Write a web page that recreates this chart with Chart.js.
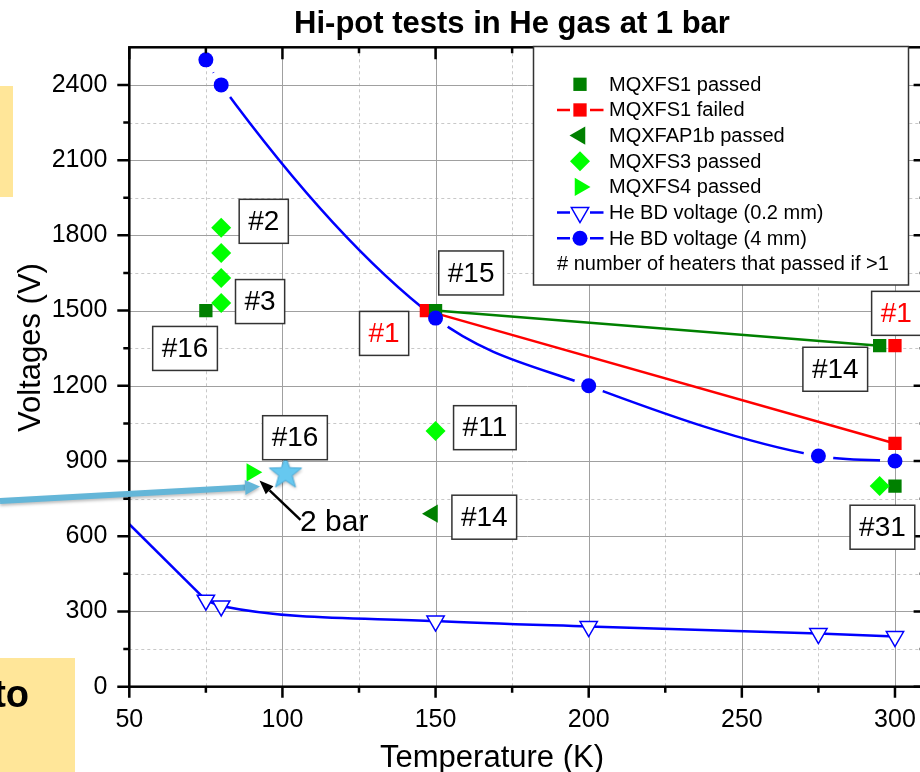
<!DOCTYPE html>
<html>
<head>
<meta charset="utf-8">
<script src="https://cdn.jsdelivr.net/npm/chart.js@4.4.1/dist/chart.umd.min.js"></script>
<style>
  html, body { margin: 0; padding: 0; background: #fff; overflow: hidden; }
  #wrap { position: relative; width: 930px; height: 772px; }
</style>
</head>
<body>
<div id="wrap"><canvas id="hipot" width="930" height="772"></canvas></div>
<script>
// values
const xTicks = [50, 100, 150, 200, 250, 300];
const yTicks = [0, 300, 600, 900, 1200, 1500, 1800, 2100, 2400];

const s1PassTemp = [75, 150, 295, 300];
const s1PassVolt = [1500, 1500, 1360, 800];
const s1FailTemp = [300, 147, 300];
const s1FailVolt = [1360, 1500, 970];
const ap1bTemp = [149];
const ap1bVolt = [690];
const s3Temp = [80, 80, 80, 80, 150, 295];
const s3Volt = [1830, 1730, 1630, 1530, 1020, 800];
const s4Temp = [90];
const s4Volt = [855];
const bd02Temp = [50, 75, 80, 150, 200, 275, 300];
const bd02Volt = [648, 345, 322, 262, 240, 212, 200];
const bd4Temp = [75, 80, 150, 200, 275, 300];
const bd4Volt = [2500, 2400, 1470, 1200, 920, 900];
const starTemp = [101];
const starVolt = [855];

// "#n" boxes: text, temperature, voltage, colour
const heaterLabels = [
  ["#2", 93.9, 1856, "#000"],
  ["#3", 92.7, 1536, "#000"],
  ["#16", 68.2, 1349, "#000"],
  ["#1", 133.2, 1409, "#ff0000"],
  ["#15", 161.6, 1650, "#000"],
  ["#16", 104.1, 993, "#000"],
  ["#11", 166.1, 1033, "#000"],
  ["#14", 165.9, 676, "#000"],
  ["#14", 280.5, 1266, "#000"],
  ["#1", 300.4, 1489, "#ff0000"],
  ["#31", 295.9, 636, "#000"]
];

const GREEN = "#008000", RED = "#ff0000", LIME = "#00ff00", BLUE = "#0000ff";
const FONT = "'Liberation Sans', Arial, sans-serif";

const pts = (xs, ys) => xs.map((x, i) => ({ x: x, y: ys[i] }));

function drawMarker(ctx, style, x, y, r, rot, fill, stroke, lw) {
  ctx.save();
  ctx.translate(x, y);
  ctx.rotate((rot || 0) * Math.PI / 180);
  ctx.beginPath();
  if (style === "circle") {
    ctx.arc(0, 0, r, 0, Math.PI * 2);
  } else if (style === "rect") {
    const h = r * Math.SQRT1_2;
    ctx.rect(-h, -h, 2 * h, 2 * h);
  } else if (style === "rectRot") {
    ctx.moveTo(0, -r); ctx.lineTo(r, 0); ctx.lineTo(0, r); ctx.lineTo(-r, 0);
    ctx.closePath();
  } else if (style === "triangle") {
    for (let k = 0; k < 3; k++) {
      const a = k * 2 * Math.PI / 3;
      ctx.lineTo(Math.sin(a) * r, -Math.cos(a) * r);
    }
    ctx.closePath();
  }
  ctx.fillStyle = fill;
  ctx.fill();
  if (stroke) { ctx.strokeStyle = stroke; ctx.lineWidth = lw || 1.5; ctx.stroke(); }
  ctx.restore();
}

// filled star used as a point image
const starImg = document.createElement("canvas");
starImg.width = 44; starImg.height = 44;
(function () {
  const c = starImg.getContext("2d");
  c.shadowColor = "rgba(0,0,0,0.25)"; c.shadowBlur = 3; c.shadowOffsetX = 1; c.shadowOffsetY = 2;
  c.beginPath();
  for (let k = 0; k < 10; k++) {
    const r = k % 2 ? 7 : 17;
    const a = k * Math.PI / 5;
    c.lineTo(22 + Math.sin(a) * r, 23 - Math.cos(a) * r);
  }
  c.closePath();
  c.fillStyle = "#66c8f0";
  c.fill();
  c.shadowColor = "transparent";
  c.strokeStyle = "#4aa9d6"; c.lineWidth = 1;
  c.stroke();
})();

function arrow(ctx, x0, y0, x1, y1, color, lw, headLen, headW) {
  const ang = Math.atan2(y1 - y0, x1 - x0);
  const bx = x1 - Math.cos(ang) * headLen, by = y1 - Math.sin(ang) * headLen;
  ctx.strokeStyle = color; ctx.lineWidth = lw;
  ctx.beginPath(); ctx.moveTo(x0, y0); ctx.lineTo(bx, by); ctx.stroke();
  ctx.beginPath(); ctx.moveTo(x1, y1);
  ctx.lineTo(bx + Math.sin(ang) * headW / 2, by - Math.cos(ang) * headW / 2);
  ctx.lineTo(bx - Math.sin(ang) * headW / 2, by + Math.cos(ang) * headW / 2);
  ctx.closePath(); ctx.fillStyle = color; ctx.fill();
}

// Origin-style gap between curve and its symbols
const gapPlugin = {
  id: "gaps",
  beforeDatasetDraw(chart, args) {
    const ds = chart.data.datasets[args.index];
    if (!ds.gapRadius) return;
    const { ctx, chartArea: a, scales: { x, y } } = chart;
    ctx.save();
    ctx.beginPath();
    ctx.rect(a.left - 5, a.top - 5, a.width + 10, a.height + 10);
    ds.data.forEach(p => {
      const px = x.getPixelForValue(p.x), py = y.getPixelForValue(p.y);
      ctx.moveTo(px + ds.gapRadius, py);
      ctx.arc(px, py, ds.gapRadius, 0, Math.PI * 2);
    });
    ctx.clip("evenodd");
  },
  afterDatasetDraw(chart, args) {
    if (chart.data.datasets[args.index].gapRadius) chart.ctx.restore();
  }
};

const framePlugin = {
  id: "frame",
  beforeDatasetsDraw(chart) {
    const { ctx, chartArea: a, scales: { x, y } } = chart;
    ctx.save();
    // bits of the slide behind the plot
    ctx.fillStyle = "#ffe699";
    ctx.fillRect(0, 86, 13, 111);
    ctx.fillRect(0, 658, 75, 114);
    ctx.fillStyle = "#000";
    ctx.font = "bold 38px " + FONT;
    ctx.textAlign = "right";
    ctx.textBaseline = "alphabetic";
    ctx.fillText("to", 29, 707);

    // minor grid
    ctx.strokeStyle = "#c8c8c8"; ctx.lineWidth = 1; ctx.setLineDash([3, 3]);
    ctx.beginPath();
    for (let v = 75; v < 310; v += 50) { const p = Math.round(x.getPixelForValue(v)) + 0.5; ctx.moveTo(p, a.top); ctx.lineTo(p, a.bottom); }
    for (let v = 150; v < 2550; v += 300) { const p = Math.round(y.getPixelForValue(v)) + 0.5; ctx.moveTo(a.left, p); ctx.lineTo(a.right, p); }
    ctx.stroke();
    // major grid
    ctx.setLineDash([]); ctx.strokeStyle = "#a0a0a0";
    ctx.beginPath();
    xTicks.slice(1).forEach(v => { const p = Math.round(x.getPixelForValue(v)) + 0.5; ctx.moveTo(p, a.top); ctx.lineTo(p, a.bottom); });
    yTicks.slice(1).forEach(v => { const p = Math.round(y.getPixelForValue(v)) + 0.5; ctx.moveTo(a.left, p); ctx.lineTo(a.right, p); });
    ctx.stroke();
    ctx.restore();
  },
  afterDatasetsDraw(chart) {
    const { ctx, chartArea: a, scales: { x, y } } = chart;
    ctx.save();
    // axes and ticks
    ctx.strokeStyle = "#000"; ctx.lineWidth = 2.5;
    ctx.strokeRect(a.left, a.top, a.right - a.left, a.bottom - a.top);
    ctx.beginPath();
    xTicks.forEach(v => {
      const p = x.getPixelForValue(v);
      ctx.moveTo(p, a.bottom); ctx.lineTo(p, a.bottom + 11);
      ctx.moveTo(p, a.top); ctx.lineTo(p, a.top + 12);
    });
    for (let v = 75; v < 310; v += 50) {
      const p = x.getPixelForValue(v);
      ctx.moveTo(p, a.bottom); ctx.lineTo(p, a.bottom + 6);
      ctx.moveTo(p, a.top); ctx.lineTo(p, a.top + 6);
    }
    yTicks.forEach(v => {
      const p = y.getPixelForValue(v);
      ctx.moveTo(a.left, p); ctx.lineTo(a.left - 12, p);
      ctx.moveTo(a.right, p); ctx.lineTo(a.right - 12, p);
    });
    for (let v = 150; v < 2550; v += 300) {
      const p = y.getPixelForValue(v);
      ctx.moveTo(a.left, p); ctx.lineTo(a.left - 6, p);
      ctx.moveTo(a.right, p); ctx.lineTo(a.right - 6, p);
    }
    ctx.stroke();

    // heater count boxes
    ctx.font = "28px " + FONT;
    ctx.textAlign = "center"; ctx.textBaseline = "middle";
    heaterLabels.forEach(([t, tx, ty, col]) => {
      const cx = x.getPixelForValue(tx), cy = y.getPixelForValue(ty);
      const w = ctx.measureText(t).width + 18, h = 44;
      ctx.fillStyle = "#fff"; ctx.fillRect(cx - w / 2, cy - h / 2, w, h);
      ctx.strokeStyle = "#333"; ctx.lineWidth = 1.5; ctx.strokeRect(cx - w / 2, cy - h / 2, w, h);
      ctx.fillStyle = col; ctx.fillText(t, cx, cy + 1);
    });

    // arrows and the 2 bar note
    ctx.save();
    ctx.shadowColor = "rgba(0,0,0,0.25)"; ctx.shadowBlur = 3; ctx.shadowOffsetY = 2;
    arrow(ctx, 0, y.getPixelForValue(741), x.getPixelForValue(92.7), y.getPixelForValue(798), "#64b6d8", 6, 15, 15);
    ctx.restore();
    arrow(ctx, x.getPixelForValue(105.9), y.getPixelForValue(665), x.getPixelForValue(92.5), y.getPixelForValue(822), "#000", 2.5, 14, 11);
    ctx.fillStyle = "#000"; ctx.font = "30px " + FONT;
    ctx.textAlign = "left"; ctx.textBaseline = "alphabetic";
    ctx.fillText("2 bar", 300, 531);

    // legend
    const lx = 533.5, ly = 46.5, lw = 375, lh = 238.5;
    ctx.fillStyle = "#fff"; ctx.fillRect(lx, ly, lw, lh);
    ctx.strokeStyle = "#333"; ctx.lineWidth = 1.5; ctx.strokeRect(lx, ly, lw, lh);
    ctx.font = "20px " + FONT; ctx.textBaseline = "middle"; ctx.textAlign = "left";
    const rows = chart.data.datasets.filter(d => d.legendRow !== undefined).sort((p, q) => p.legendRow - q.legendRow);
    rows.forEach(d => {
      const ry = 84.3 + d.legendRow * 25.65;
      if (d.legendLine) {
        ctx.strokeStyle = d.legendLine; ctx.lineWidth = 2.5;
        ctx.beginPath();
        ctx.moveTo(557, ry); ctx.lineTo(570, ry);
        ctx.moveTo(590, ry); ctx.lineTo(603.5, ry);
        ctx.stroke();
      }
      drawMarker(ctx, d.pointStyle, 580, ry, d.pointRadius, d.rotation, d.pointBackgroundColor, d.pointBorderWidth ? d.pointBorderColor : null, d.pointBorderWidth);
      ctx.fillStyle = "#000";
      ctx.fillText(d.label, 609, ry + 1);
    });
    ctx.fillText("# number of heaters that passed if >1", 557, 84.3 + 7 * 25.65 + 1);

    // titles
    ctx.fillStyle = "#000";
    ctx.font = "bold 31px " + FONT; ctx.textAlign = "center"; ctx.textBaseline = "alphabetic";
    ctx.fillText("Hi-pot tests in He gas at 1 bar", 512, 33);
    ctx.font = "31px " + FONT;
    ctx.fillText("Temperature (K)", 492, 767);
    ctx.translate(40, 347.5); ctx.rotate(-Math.PI / 2);
    ctx.fillText("Voltages (V)", 0, 0);
    ctx.restore();
  }
};

const base = { showLine: false, pointBorderWidth: 0, pointHoverRadius: 0 };

new Chart(document.getElementById("hipot"), {
  type: "line",
  data: {
    datasets: [
      { data: pts(bd02Temp.slice(0, 2), bd02Volt.slice(0, 2)), borderColor: BLUE, borderWidth: 2.5, pointRadius: 0, tension: 0, order: 20 },
      { data: pts(bd02Temp.slice(1), bd02Volt.slice(1)), borderColor: BLUE, borderWidth: 2.5, pointRadius: 0, cubicInterpolationMode: "monotone", order: 19 },
      { data: pts(bd4Temp, bd4Volt), borderColor: BLUE, borderWidth: 2.5, pointRadius: 0, cubicInterpolationMode: "monotone", gapRadius: 15, order: 18 },
      Object.assign({}, base, {
        label: "MQXFS1 failed", legendRow: 1, legendLine: RED,
        data: pts(s1FailTemp, s1FailVolt), showLine: true, borderColor: RED, borderWidth: 2.5,
        segment: { borderColor: c => c.p0DataIndex === 0 ? "rgba(0,0,0,0)" : RED },
        pointStyle: "rect", pointRadius: 9.4, pointBackgroundColor: RED, order: 16
      }),
      Object.assign({}, base, {
        label: "MQXFS1 passed", legendRow: 0,
        data: pts(s1PassTemp, s1PassVolt), showLine: true, borderColor: GREEN, borderWidth: 2.5,
        segment: { borderColor: c => c.p0DataIndex === 1 ? GREEN : "rgba(0,0,0,0)" },
        pointStyle: "rect", pointRadius: 9.4, pointBackgroundColor: GREEN, order: 15
      }),
      Object.assign({}, base, {
        label: "MQXFS3 passed", legendRow: 3,
        data: pts(s3Temp, s3Volt), pointStyle: "rectRot", pointRadius: 10, pointBackgroundColor: LIME, order: 14
      }),
      Object.assign({}, base, {
        label: "MQXFAP1b passed", legendRow: 2,
        data: pts(ap1bTemp, ap1bVolt), pointStyle: "triangle", rotation: -90, pointRadius: 10.5, pointBackgroundColor: GREEN, order: 13
      }),
      Object.assign({}, base, {
        label: "MQXFS4 passed", legendRow: 4,
        data: pts(s4Temp, s4Volt), pointStyle: "triangle", rotation: 90, pointRadius: 10.5, pointBackgroundColor: LIME, order: 12
      }),
      Object.assign({}, base, {
        label: "He BD voltage (0.2 mm)", legendRow: 5, legendLine: BLUE,
        data: pts(bd02Temp.slice(1), bd02Volt.slice(1)), pointStyle: "triangle", rotation: 180, pointRadius: 10,
        pointBackgroundColor: "#fff", pointBorderColor: BLUE, pointBorderWidth: 1.5, order: 11
      }),
      Object.assign({}, base, {
        label: "He BD voltage (4 mm)", legendRow: 6, legendLine: BLUE,
        data: pts(bd4Temp, bd4Volt), pointStyle: "circle", pointRadius: 7.5, pointBackgroundColor: BLUE, order: 10
      }),
      Object.assign({}, base, {
        data: pts(starTemp, starVolt), pointStyle: starImg, pointRadius: 17, order: 9
      })
    ]
  },
  options: {
    responsive: false,
    animation: false,
    devicePixelRatio: 1,
    // no automatic room for big markers: the plot box is fixed
    layout: { autoPadding: false, padding: { top: 47.3, right: 4.4, left: 0, bottom: 0 } },
    plugins: { legend: { display: false }, tooltip: { enabled: false }, title: { display: false } },
    events: [],
    scales: {
      x: {
        type: "linear", min: 50, max: 310,
        grid: { display: false, drawTicks: false }, border: { display: false },
        afterFit: s => { s.height = 85.3; s.paddingLeft = 0; s.paddingRight = 0; },
        afterBuildTicks: s => { s.ticks = xTicks.map(v => ({ value: v })); },
        ticks: { color: "#000", font: { family: FONT, size: 25, lineHeight: 2.64 }, padding: 0, maxRotation: 0, autoSkip: false, callback: v => String(v) }
      },
      y: {
        type: "linear", min: 0, max: 2550,
        grid: { display: false, drawTicks: false }, border: { display: false },
        afterFit: s => { s.width = 129.3; s.paddingTop = 0; s.paddingBottom = 0; },
        afterBuildTicks: s => { s.ticks = yTicks.map(v => ({ value: v })); },
        ticks: { color: "#000", font: { family: FONT, size: 25 }, padding: 22, autoSkip: false, callback: v => String(v) }
      }
    }
  },
  plugins: [gapPlugin, framePlugin]
});
</script>
</body>
</html>
